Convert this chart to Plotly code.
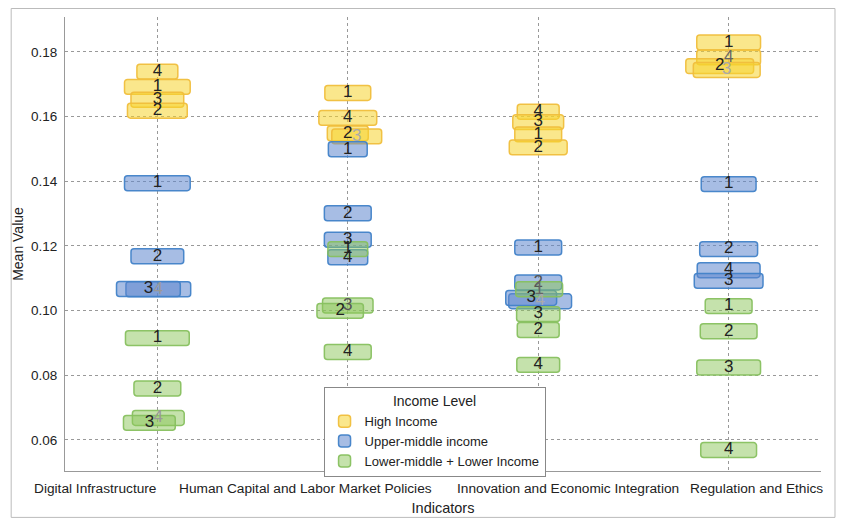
import plotly.graph_objects as go

# ---------------- data ----------------
categories = ["Digital Infrastructure", "Human Capital and Labor Market Policies",
              "Innovation and Economic Integration", "Regulation and Ethics"]
groups = ["High Income", "Upper-middle income", "Lower-middle + Lower Income"]

# per group: category index, label, mean value, horizontal jitter (x units), box width (x units)
high_cat = [0, 0, 0, 0, 1, 1, 1, 1, 2, 2, 2, 2, 3, 3, 3, 3]
high_lab = ["4", "1", "3", "2", "1", "4", "2", "3", "4", "3", "1", "2", "1", "4", "2", "3"]
high_val = [0.1739, 0.1692, 0.1652, 0.1618, 0.1673, 0.1596, 0.1548, 0.1539,
            0.1615, 0.1583, 0.1545, 0.1505, 0.1829, 0.1783, 0.1756, 0.1744]
high_jit = [0, 0, 0, 0, 0, 0, 0, 0.047, 0, 0, 0, 0, 0, 0, -0.047, -0.010]
high_wid = [0.215, 0.345, 0.277, 0.314, 0.241, 0.304, 0.215, 0.262,
            0.220, 0.267, 0.246, 0.304, 0.335, 0.335, 0.356, 0.351]

um_cat = [0, 0, 0, 0, 1, 1, 1, 1, 2, 2, 2, 2, 3, 3, 3, 3]
um_lab = ["1", "2", "4", "3", "1", "2", "3", "4", "1", "2", "4", "3", "1", "2", "4", "3"]
um_val = [0.1394, 0.1168, 0.1066, 0.1067, 0.1499, 0.1301, 0.1219, 0.1165,
          0.1195, 0.1087, 0.1029, 0.1039, 0.1391, 0.1190, 0.1125, 0.1092]
um_jit = [0, 0, 0.005, -0.047, 0, 0, 0, 0, 0, 0, 0.010, -0.037, 0, 0, 0, 0]
um_wid = [0.345, 0.277, 0.340, 0.335, 0.204, 0.246, 0.246, 0.209,
          0.246, 0.246, 0.330, 0.267, 0.288, 0.304, 0.330, 0.361]

low_cat = [0, 0, 0, 0, 1, 1, 1, 1, 2, 2, 2, 2, 3, 3, 3, 3]
low_lab = ["1", "2", "4", "3", "1", "3", "2", "4", "1", "3", "2", "4", "1", "2", "3", "4"]
low_val = [0.0915, 0.0759, 0.0668, 0.0653, 0.1190, 0.1016, 0.0999, 0.0872,
           0.1066, 0.0989, 0.0940, 0.0832, 0.1014, 0.0936, 0.0824, 0.0569]
low_jit = [0, 0, 0.005, -0.042, 0, 0, -0.040, 0, 0.005, 0, 0, 0, 0, 0, 0, 0]
low_wid = [0.335, 0.246, 0.272, 0.272, 0.209, 0.265, 0.244, 0.246,
           0.246, 0.227, 0.220, 0.225, 0.246, 0.298, 0.335, 0.293]

# labels partly hidden behind a box drawn later (group, position in arrays)
covered = {("High Income", 7): "#aaa", ("High Income", 13): "#666", ("High Income", 15): "#aaa",
           ("Upper-middle income", 2): "#999", ("Upper-middle income", 10): "#aaa",
           ("Upper-middle income", 9): "#555",
           ("Lower-middle + Lower Income", 2): "#999", ("Lower-middle + Lower Income", 8): "#666",
           ("Lower-middle + Lower Income", 5): "#555"}

# ---------------- style ----------------
FONT = "Liberation Sans"
BOX_H = 0.0046
fills = ["rgba(246,212,45,0.55)", "rgba(95,135,205,0.55)", "rgba(140,198,90,0.5)"]
lines = ["rgba(240,190,60,0.95)", "rgba(65,130,200,0.95)", "rgba(135,192,95,0.95)"]

series = [(high_cat, high_lab, high_val, high_jit, high_wid),
          (um_cat, um_lab, um_val, um_jit, um_wid),
          (low_cat, low_lab, low_val, low_jit, low_wid)]

fig = go.Figure()
for gi, (g, (cat, lab, val, jit, wid)) in enumerate(zip(groups, series)):
    xs = [c + j for c, j in zip(cat, jit)]
    fig.add_trace(go.Bar(
        x=xs, y=[BOX_H] * len(val), base=[v - BOX_H / 2 for v in val], width=wid,
        name=g, marker=dict(color=fills[gi], line=dict(color=lines[gi], width=1.5),
                            cornerradius=3),
        hoverinfo="skip"))
for gi, (g, (cat, lab, val, jit, wid)) in enumerate(zip(groups, series)):
    xs = [c + j for c, j in zip(cat, jit)]
    cols = [covered.get((g, i), "#222") for i in range(len(val))]
    fig.add_trace(go.Scatter(
        x=xs, y=val, mode="text", text=lab, showlegend=False, hoverinfo="skip",
        textfont=dict(family=FONT, size=17, color=cols)))

# category labels (shifted as in the original)
label_shift = [-62, -42, 30, 28]
for i, (c, s) in enumerate(zip(categories, label_shift)):
    fig.add_annotation(x=i, y=0, xref="x", yref="paper", yanchor="top", yshift=-8,
                       xshift=s, text=c, showarrow=False,
                       font=dict(family=FONT, size=13.7, color="#222"))

# frame around the picture
fig.add_shape(type="rect", xref="paper", yref="paper", x0=-0.0712, x1=1.0185, y0=-0.1022, y1=1.0187,
              line=dict(color="#bbb", width=1), layer="below")

# the page adds an 8 px margin around the figure, so the figure is 16 px smaller
fig.update_layout(
    width=828, height=511, barmode="overlay",
    margin=dict(l=55, r=15, t=9, b=47),
    paper_bgcolor="white", plot_bgcolor="white",
    font=dict(family=FONT, size=14, color="#222"),
    legend=dict(x=0.342, y=0.185, xanchor="left", yanchor="top",
                bordercolor="#888", borderwidth=1, bgcolor="white",
                title=dict(text="Income Level", side="top center", font=dict(size=14)),
                font=dict(size=13), itemwidth=30, tracegroupgap=0),
    xaxis=dict(range=[-0.485, 3.485], tickvals=[0, 1, 2, 3], ticktext=["", "", "", ""],
               showgrid=True, gridcolor="#999", griddash="3px,3px", gridwidth=1,
               showline=True, linecolor="#999", linewidth=1, zeroline=False,
               title=dict(text="Indicators", font=dict(size=14.5), standoff=29)),
    yaxis=dict(range=[0.0504, 0.1908], tickvals=[0.06, 0.08, 0.10, 0.12, 0.14, 0.16, 0.18],
               ticktext=["0.06", "0.08", "0.10", "0.12", "0.14", "0.16", "0.18"],
               showgrid=True, gridcolor="#999", griddash="3px,3px", gridwidth=1,
               showline=True, linecolor="#999", linewidth=1, zeroline=False,
               ticks="", ticklabelstandoff=4, tickfont=dict(size=13.5),
               title=dict(text="Mean Value", font=dict(size=14), standoff=4)),
)
fig.write_html("out.html")
